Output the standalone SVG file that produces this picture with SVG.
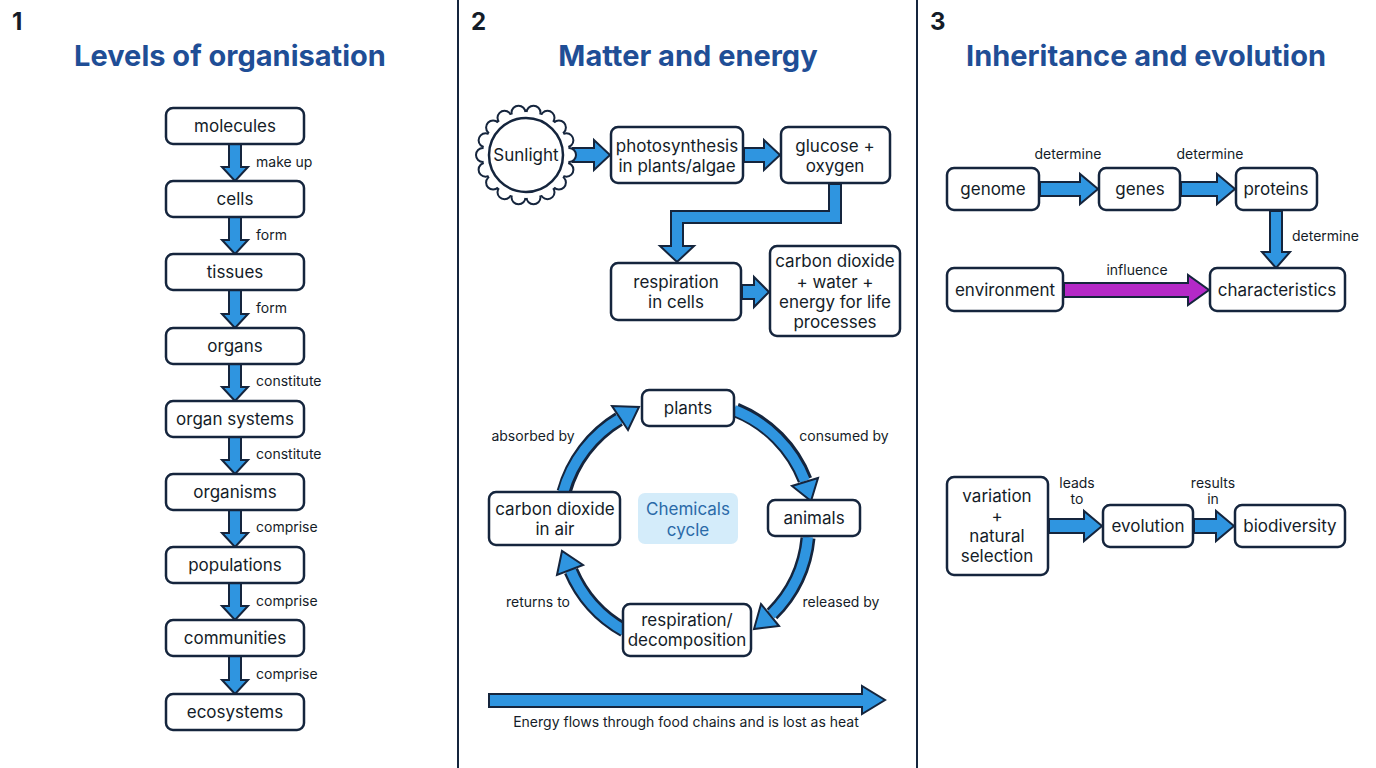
<svg xmlns="http://www.w3.org/2000/svg" width="1376" height="768" viewBox="0 0 1376 768">
<style>
text{font-family:Inter,"Noto Sans","Liberation Sans",sans-serif;fill:#141c28}
.n rect{fill:#fff;stroke:#15253d;stroke-width:2.5}
.n text{font-size:17px;text-anchor:middle}
.t{font-size:29px;font-weight:700;fill:#1f4e96;text-anchor:middle}
.num{font-size:24px;font-weight:700}
.l{font-size:14px}
.m{text-anchor:middle}
.a{fill:#2f95e0;stroke:#15253d;stroke-width:2;stroke-linejoin:miter}
.p{fill:#b429c7;stroke:#15253d;stroke-width:2}
.arcO{fill:none;stroke:#15253d;stroke-width:15}
.arcI{fill:none;stroke:#2f95e0;stroke-width:10}
</style>
<rect width="1376" height="768" fill="#fff"/>
<line x1="458" y1="0" x2="458" y2="768" stroke="#15253d" stroke-width="2"/>
<line x1="917" y1="0" x2="917" y2="768" stroke="#15253d" stroke-width="2"/>
<text class="num" x="12" y="30">1</text>
<text class="num" x="471" y="30">2</text>
<text class="num" x="930" y="30">3</text>
<text class="t" x="230" y="66">Levels of organisation</text>
<text class="t" x="688" y="66">Matter and energy</text>
<text class="t" x="1146" y="66">Inheritance and evolution</text>

<g id="connectors">
<path class="a" d="M229,144 H241 V167 H248 L235,181 L222,167 H229 Z"/>
<path class="a" d="M229,217 H241 V240 H248 L235,254 L222,240 H229 Z"/>
<path class="a" d="M229,290 H241 V314 H248 L235,328 L222,314 H229 Z"/>
<path class="a" d="M229,364 H241 V387 H248 L235,401 L222,387 H229 Z"/>
<path class="a" d="M229,437 H241 V460 H248 L235,474 L222,460 H229 Z"/>
<path class="a" d="M229,510 H241 V533 H248 L235,547 L222,533 H229 Z"/>
<path class="a" d="M229,583 H241 V606 H248 L235,620 L222,606 H229 Z"/>
<path class="a" d="M229,656 H241 V680 H248 L235,694 L222,680 H229 Z"/>
<text class="l" x="256" y="167">make up</text>
<text class="l" x="256" y="240">form</text>
<text class="l" x="256" y="313">form</text>
<text class="l" x="256" y="386">constitute</text>
<text class="l" x="256" y="459">constitute</text>
<text class="l" x="256" y="532">comprise</text>
<text class="l" x="256" y="606">comprise</text>
<text class="l" x="256" y="679">comprise</text>

<path class="a" d="M573,148 H594 V140 L610,155 L594,170 V162 H573 Z"/>
<path class="a" d="M744,148 H764 V140 L780,155 L764,170 V162 H744 Z"/>
<path class="a" d="M829,184 H841 V223 H683 V246 H694 L677,262 L660,246 H671 V211 H829 Z"/>
<path class="a" d="M742,285 H754 V277 L769,292 L754,307 V299 H742 Z"/>

<path class="arcO" d="M736,410 A124,124 0 0 1 805,480"/>
<path class="arcI" d="M734,410 A124,124 0 0 1 805,481"/>
<polygon class="a" points="818,478 792,486 811,501"/>
<path class="arcO" d="M808,538 A124,124 0 0 1 772,614"/>
<path class="arcI" d="M808,537 A124,124 0 0 1 771,615"/>
<polygon class="a" points="779,626 761,604 754,629"/>
<path class="arcO" d="M624,630 A124,124 0 0 1 571,571"/>
<path class="arcI" d="M625,631 A124,124 0 0 1 570,569"/>
<polygon class="a" points="583,565 557,575 562,551"/>
<path class="arcO" d="M564,492 A124,124 0 0 1 619,419"/>
<path class="arcI" d="M563,493 A124,124 0 0 1 621,418"/>
<polygon class="a" points="628,430 612,406 639,407"/>
<text class="l m" x="533" y="441">absorbed by</text>
<text class="l m" x="844" y="441">consumed by</text>
<text class="l m" x="841" y="607">released by</text>
<text class="l m" x="538" y="607">returns to</text>

<path class="a" d="M489,694 H862 V686 L885,700 L862,714 V707 H489 Z"/>
<text class="l m" x="686" y="727">Energy flows through food chains and is lost as heat</text>

<path class="a" d="M1040,182 H1080 V174 L1098,189 L1080,204 V196 H1040 Z"/>
<path class="a" d="M1181,182 H1217 V174 L1235,189 L1217,204 V196 H1181 Z"/>
<text class="l m" x="1068" y="159">determine</text>
<text class="l m" x="1210" y="159">determine</text>
<path class="a" d="M1270,211 H1282 V252 H1290 L1276,268 L1262,252 H1270 Z"/>
<text class="l" x="1292" y="241">determine</text>
<path class="p" d="M1064,283 H1188 V275 L1209,290 L1188,305 V297 H1064 Z"/>
<text class="l m" x="1137" y="275">influence</text>
<path class="a" d="M1049,519 H1084 V511 L1102,526 L1084,541 V533 H1049 Z"/>
<path class="a" d="M1194,519 H1216 V511 L1234,526 L1216,541 V533 H1194 Z"/>
<text class="l m" x="1077" y="488">leads</text>
<text class="l m" x="1077" y="504">to</text>
<text class="l m" x="1213" y="488">results</text>
<text class="l m" x="1213" y="504">in</text>
</g>

<g id="molecules" class="n"><rect x="166" y="108" width="138" height="36" rx="7"/><text x="235" y="132">molecules</text></g>
<g id="cells" class="n"><rect x="166" y="181" width="138" height="36" rx="7"/><text x="235" y="205">cells</text></g>
<g id="tissues" class="n"><rect x="166" y="254" width="138" height="36" rx="7"/><text x="235" y="278">tissues</text></g>
<g id="organs" class="n"><rect x="166" y="328" width="138" height="36" rx="7"/><text x="235" y="352">organs</text></g>
<g id="organsystems" class="n"><rect x="166" y="401" width="138" height="36" rx="7"/><text x="235" y="425">organ systems</text></g>
<g id="organisms" class="n"><rect x="166" y="474" width="138" height="36" rx="7"/><text x="235" y="498">organisms</text></g>
<g id="populations" class="n"><rect x="166" y="547" width="138" height="36" rx="7"/><text x="235" y="571">populations</text></g>
<g id="communities" class="n"><rect x="166" y="620" width="138" height="36" rx="7"/><text x="235" y="644">communities</text></g>
<g id="ecosystems" class="n"><rect x="166" y="694" width="138" height="36" rx="7"/><text x="235" y="718">ecosystems</text></g>

<g id="sunlight" transform="translate(526,155)">
<g fill="#fff" stroke="#15253d" stroke-width="2">
<circle cx="43" cy="0" r="7"/><circle cx="40.4" cy="14.7" r="7"/><circle cx="32.9" cy="27.6" r="7"/><circle cx="21.5" cy="37.2" r="7"/><circle cx="7.5" cy="42.3" r="7"/>
<circle cx="-7.5" cy="42.3" r="7"/><circle cx="-21.5" cy="37.2" r="7"/><circle cx="-32.9" cy="27.6" r="7"/><circle cx="-40.4" cy="14.7" r="7"/><circle cx="-43" cy="0" r="7"/>
<circle cx="-40.4" cy="-14.7" r="7"/><circle cx="-32.9" cy="-27.6" r="7"/><circle cx="-21.5" cy="-37.2" r="7"/><circle cx="-7.5" cy="-42.3" r="7"/>
<circle cx="7.5" cy="-42.3" r="7"/><circle cx="21.5" cy="-37.2" r="7"/><circle cx="32.9" cy="-27.6" r="7"/><circle cx="40.4" cy="-14.7" r="7"/>
</g>
<circle r="43" fill="#fff"/>
<circle r="37" fill="#fff" stroke="#15253d" stroke-width="2.5"/>
<text x="0" y="6" font-size="17" text-anchor="middle">Sunlight</text>
</g>
<g id="photosynthesis" class="n"><rect x="611" y="127" width="132" height="56" rx="7"/><text x="677" y="152">photosynthesis</text><text x="677" y="172">in plants/algae</text></g>
<g id="glucose" class="n"><rect x="781" y="127" width="109" height="56" rx="7"/><text x="835" y="152">glucose +</text><text x="835" y="172">oxygen</text></g>
<g id="respiration" class="n"><rect x="611" y="263" width="130" height="57" rx="7"/><text x="676" y="288">respiration</text><text x="676" y="308">in cells</text></g>
<g id="products" class="n"><rect x="770" y="246" width="130" height="90" rx="7"/><text x="835" y="267">carbon dioxide</text><text x="835" y="288">+ water +</text><text x="835" y="308">energy for life</text><text x="835" y="328">processes</text></g>
<g id="plants" class="n"><rect x="642" y="390" width="92" height="36" rx="7"/><text x="688" y="414">plants</text></g>
<g id="animals" class="n"><rect x="768" y="500" width="92" height="36" rx="7"/><text x="814" y="524">animals</text></g>
<g id="decomposition" class="n"><rect x="623" y="604" width="128" height="52" rx="7"/><text x="687" y="626">respiration/</text><text x="687" y="646">decomposition</text></g>
<g id="co2air" class="n"><rect x="489" y="492" width="131" height="53" rx="7"/><text x="555" y="515">carbon dioxide</text><text x="555" y="535">in air</text></g>
<g id="chemicals"><rect x="638" y="493" width="100" height="51" rx="7" fill="#d4ecfa"/><text x="688" y="515" font-size="17" text-anchor="middle" style="fill:#2a6aa8">Chemicals</text><text x="688" y="536" font-size="17" text-anchor="middle" style="fill:#2a6aa8">cycle</text></g>

<g id="genome" class="n"><rect x="947" y="168" width="92" height="42" rx="7"/><text x="993" y="195">genome</text></g>
<g id="genes" class="n"><rect x="1099" y="168" width="81" height="42" rx="7"/><text x="1140" y="195">genes</text></g>
<g id="proteins" class="n"><rect x="1236" y="168" width="81" height="42" rx="7"/><text x="1276" y="195">proteins</text></g>
<g id="environment" class="n"><rect x="947" y="268" width="116" height="43" rx="7"/><text x="1005" y="296">environment</text></g>
<g id="characteristics" class="n"><rect x="1210" y="268" width="135" height="43" rx="7"/><text x="1277" y="296">characteristics</text></g>
<g id="variation" class="n"><rect x="947" y="477" width="101" height="98" rx="7"/><text x="997" y="502">variation</text><text x="997" y="522">+</text><text x="997" y="542">natural</text><text x="997" y="562">selection</text></g>
<g id="evolution" class="n"><rect x="1103" y="505" width="90" height="42" rx="7"/><text x="1148" y="532">evolution</text></g>
<g id="biodiversity" class="n"><rect x="1235" y="505" width="110" height="42" rx="7"/><text x="1290" y="532">biodiversity</text></g>
</svg>
